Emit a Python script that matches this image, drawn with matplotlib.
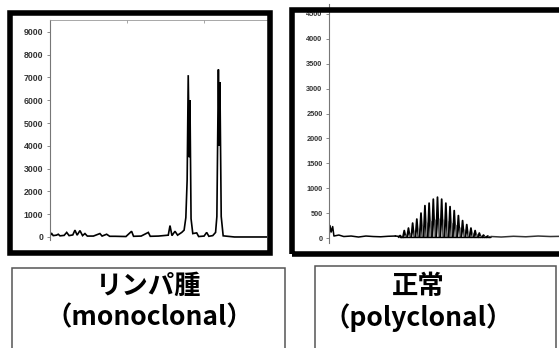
import matplotlib
matplotlib.use("Agg")
import matplotlib.pyplot as plt
from matplotlib.patches import Rectangle


W, H = 559, 348

# monoclonal (lymphoma) trace: position in arbitrary units 0-100, signal
mono_x = [0, 0.8, 1.5, 3.0, 3.8, 4.6, 6.5, 7.7, 8.8, 10.5, 11.5, 12.5, 13.8, 15.0, 16.1, 17.2,
          20, 23.0, 24, 26.1, 27.5, 30, 35, 37.6, 38.5, 42, 45.3, 46.2, 50, 54.5, 55.3, 56.2,
          57.6, 58.8, 60.7, 61.8, 62.6, 63.2, 63.7, 64.2, 64.5, 65.0, 65.8, 67.6, 68.5, 71,
          72.2, 73.2, 75, 76.3, 76.9, 77.6, 78.0, 78.3, 78.9, 79.8, 85, 100]
mono_y = [60, 150, 60, 80, 120, 50, 70, 200, 60, 90, 300, 80, 280, 60, 150, 40,
          40, 150, 40, 120, 30, 30, 20, 250, 30, 40, 200, 30, 40, 80, 500, 60,
          250, 80, 200, 300, 850, 2500, 7100, 3500, 6000, 800, 150, 180, 20, 40,
          200, 30, 60, 200, 900, 7350, 4000, 6800, 900, 50, 0, 0]
mono_yticks = [0, 1000, 2000, 3000, 4000, 5000, 6000, 7000, 8000, 9000]

# polyclonal (normal) trace: background part and the comb of peaks
poly_bg_x = [0, 0.4, 0.9, 1.5, 2.0, 4, 6, 9, 12, 15, 18, 21, 24, 27]
poly_bg_y = [0, 250, 120, 230, 40, 60, 30, 40, 20, 40, 30, 25, 35, 40]
poly_peak_x = [28.9, 30.6, 32.3, 34.0, 35.7, 37.4, 39.0, 40.7, 42.4, 44.1, 45.8,
               47.5, 49.2, 50.9, 52.6, 54.3, 56.0, 57.7, 59.4, 61.1, 62.8, 64.5]
poly_peak_y = [50, 150, 200, 300, 380, 500, 650, 700, 780, 820, 780,
               700, 630, 550, 450, 350, 270, 200, 150, 100, 60, 40]
poly_minor_y = [20, 60, 90, 140, 180, 230, 300, 330, 360, 380, 360,
                330, 290, 250, 200, 160, 120, 90, 70, 40, 25, 15]
poly_tail_x = [66, 70, 75, 80, 85, 90, 95, 100]
poly_tail_y = [30, 20, 35, 25, 40, 30, 35, 30]
poly_yticks = [0, 500, 1000, 1500, 2000, 2500, 3000, 3500, 4000, 4500]

labels_top = ["リンパ腫", "正常"]
labels_bottom = ["（monoclonal）", "（polyclonal）"]


def fig_rect(x0, y0, x1, y1):
    # pixel box (top-left origin) -> figure fraction [left, bottom, width, height]
    return [x0 / W, 1 - y1 / H, (x1 - x0) / W, (y1 - y0) / H]


plt.rcParams['font.family'] = ['Noto Sans CJK JP', 'DejaVu Sans']
fig = plt.figure(figsize=(W / 100, H / 100), dpi=100)
fig.patch.set_facecolor('white')


def style_axes(ax, yticks, size):
    for side in ['right', 'bottom']:
        ax.spines[side].set_visible(False)
    ax.spines['left'].set_color('#777777')
    ax.spines['left'].set_linewidth(0.8)
    ax.spines['top'].set_color('#999999')
    ax.spines['top'].set_linewidth(0.6)
    ax.set_yticks(yticks)
    ax.set_yticklabels([str(v) for v in yticks], fontsize=size, color='#333333',
                       family='Liberation Sans', fontweight='bold')
    ax.tick_params(axis='y', length=2.2, width=0.6, color='#777777', pad=2.5)
    ax.patch.set_alpha(0)


# left chart
ax1 = fig.add_axes(fig_rect(50, 20, 267, 240.4))
ax1.plot(mono_x, mono_y, color='black', lw=1.2, solid_joinstyle='miter')
ax1.set_xlim(0, 100)
ax1.set_ylim(-150, 9520)
style_axes(ax1, mono_yticks, 6.3)
ax1.set_xticks([35.5, 71])
ax1.tick_params(axis='x', top=True, bottom=False, labeltop=False, labelbottom=False,
                direction='in', length=2, width=0.6, color='#999999')

# right chart
ax2 = fig.add_axes(fig_rect(329, 4, 575, 243))
ax2.plot(poly_bg_x, poly_bg_y, color='black', lw=1.1)
ax2.plot(poly_tail_x, poly_tail_y, color='#333333', lw=1.1)
ax2.plot([poly_bg_x[-1], poly_peak_x[0]], [poly_bg_y[-1], 30], color='black', lw=1.1)
ax2.plot([poly_peak_x[-1], poly_tail_x[0]], [30, poly_tail_y[0]], color='black', lw=1.1)
for px, py, my in zip(poly_peak_x, poly_peak_y, poly_minor_y):
    ax2.plot([px - 0.55, px, px + 0.55], [20, py, 20], color='black', lw=1.3)
    ax2.plot([px + 0.85 - 0.4, px + 0.85, px + 0.85 + 0.4], [20, my, 20], color='#888888', lw=1.0)
ax2.plot([poly_peak_x[0], poly_peak_x[-1] + 1], [20, 20], color='black', lw=1.0)
ax2.set_xlim(0, 100)
ax2.set_ylim(-100, 4700)
style_axes(ax2, poly_yticks, 5.3)
ax2.spines['top'].set_visible(False)
ax2.set_xticks([])

# thick black frames round the charts
fig.add_artist(Rectangle((9.75 / W, 1 - 253.25 / H), (270.25 - 9.75) / W, (253.25 - 12.75) / H,
                         transform=fig.transFigure, fill=False, ec='black', lw=4))
fig.add_artist(Rectangle((291.75 / W, 1 - 254.25 / H), (590 - 291.75) / W, (254.25 - 9.75) / H,
                         transform=fig.transFigure, fill=False, ec='black', lw=4))

# label boxes
fig.add_artist(Rectangle((12 / W, 1 - 370 / H), (285 - 12) / W, (370 - 268) / H,
                         transform=fig.transFigure, fill=False, ec='#555555', lw=1.1))
fig.add_artist(Rectangle((315 / W, 1 - 370 / H), (556 - 315) / W, (370 - 266) / H,
                         transform=fig.transFigure, fill=False, ec='#555555', lw=1.1))

for cx, top, bottom in zip([149, 418], labels_top, labels_bottom):
    fig.text(cx / W, 1 - 286 / H, top, ha='center', va='center', fontsize=19,
             fontweight='bold', color='black')
    fig.text(cx / W, 1 - 318 / H, bottom, ha='center', va='center', fontsize=19,
             fontweight='bold', color='black')

fig.savefig('out.png', dpi=100)
